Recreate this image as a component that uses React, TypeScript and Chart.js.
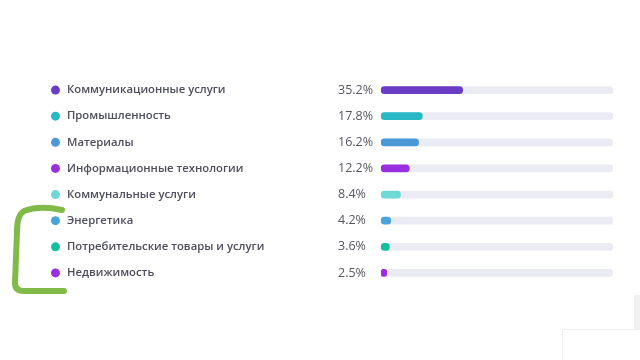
import React, { useEffect, useRef } from "react";
import { Chart, registerables } from "chart.js";

Chart.register(...registerables);

const categories = [
  "Коммуникационные услуги",
  "Промышленность",
  "Материалы",
  "Информационные технологии",
  "Коммунальные услуги",
  "Энергетика",
  "Потребительские товары и услуги",
  "Недвижимость",
];
const shares = [35.2, 17.8, 16.2, 12.2, 8.4, 4.2, 3.6, 2.5];
const shareLabels = ["35.2%", "17.8%", "16.2%", "12.2%", "8.4%", "4.2%", "3.6%", "2.5%"];
const colors = ["#6a3dc4", "#29b9c6", "#4a98d6", "#9a2fe0", "#6dd8d6", "#48a4da", "#14bf9f", "#9a2ee2"];
const trackValues = [100, 100, 100, 100, 100, 100, 100, 100];

const labelPlugin = {
  id: "rowLabels",
  afterDatasetsDraw(chart: any) {
    const { ctx } = chart;
    const y = chart.scales.y;
    ctx.save();
    categories.forEach((name, i) => {
      const py = y.getPixelForValue(i);
      ctx.beginPath();
      ctx.fillStyle = colors[i];
      ctx.arc(55.5, py, 4.5, 0, Math.PI * 2);
      ctx.fill();
      ctx.fillStyle = "#4e4e5e";
      ctx.font = '600 11.3px "Open Sans"';
      ctx.textAlign = "left";
      ctx.textBaseline = "middle";
      ctx.fillText(name, 67, py);
      ctx.fillStyle = "#56565f";
      ctx.font = '400 12.5px "Open Sans"';
      ctx.fillText(shareLabels[i], 338, py);
    });
    // hand-drawn green bracket annotation
    ctx.beginPath();
    ctx.strokeStyle = "#80ba48";
    ctx.lineWidth = 6;
    ctx.lineCap = "round";
    ctx.lineJoin = "round";
    ctx.moveTo(62, 210);
    ctx.quadraticCurveTo(40, 205, 24, 211);
    ctx.quadraticCurveTo(17, 215, 17, 231);
    ctx.lineTo(15, 283);
    ctx.quadraticCurveTo(15, 291, 24, 291);
    ctx.lineTo(64, 291);
    ctx.stroke();
    // faint page fragments at the bottom
    ctx.strokeStyle = "#efeff2";
    ctx.lineWidth = 1;
    ctx.beginPath();
    ctx.moveTo(562.5, 360);
    ctx.lineTo(562.5, 329.5);
    ctx.lineTo(640, 329.5);
    ctx.stroke();
    ctx.fillStyle = "#f1f1f3";
    ctx.fillRect(634, 295, 6, 34);
    ctx.restore();
  },
};

export default function App() {
  const ref = useRef<HTMLCanvasElement>(null);
  useEffect(() => {
    if (!ref.current) return;
    const chart = new Chart(ref.current, {
      type: "bar",
      data: {
        labels: categories,
        datasets: [
          {
            data: shares,
            backgroundColor: colors,
            barThickness: 7,
            borderRadius: 4,
            borderSkipped: false,
            grouped: false,
            order: 0,
          },
          {
            data: trackValues,
            backgroundColor: "#ebebf3",
            barThickness: 7,
            borderRadius: 4,
            borderSkipped: false,
            grouped: false,
            order: 1,
          },
        ],
      },
      options: {
        indexAxis: "y",
        animation: false,
        responsive: false,
        layout: { padding: { left: 381, right: 27, top: 77, bottom: 74 } },
        plugins: { legend: { display: false }, tooltip: { enabled: false } },
        scales: {
          x: { display: false, min: 0, max: 100 },
          y: { display: false },
        },
      },
      plugins: [labelPlugin],
    });
    return () => chart.destroy();
  }, []);
  return (
    <div style={{ position: "fixed", left: 0, top: 0, width: 640, height: 360, background: "#fff" }}>
      <canvas ref={ref} width={640} height={360} />
    </div>
  );
}
